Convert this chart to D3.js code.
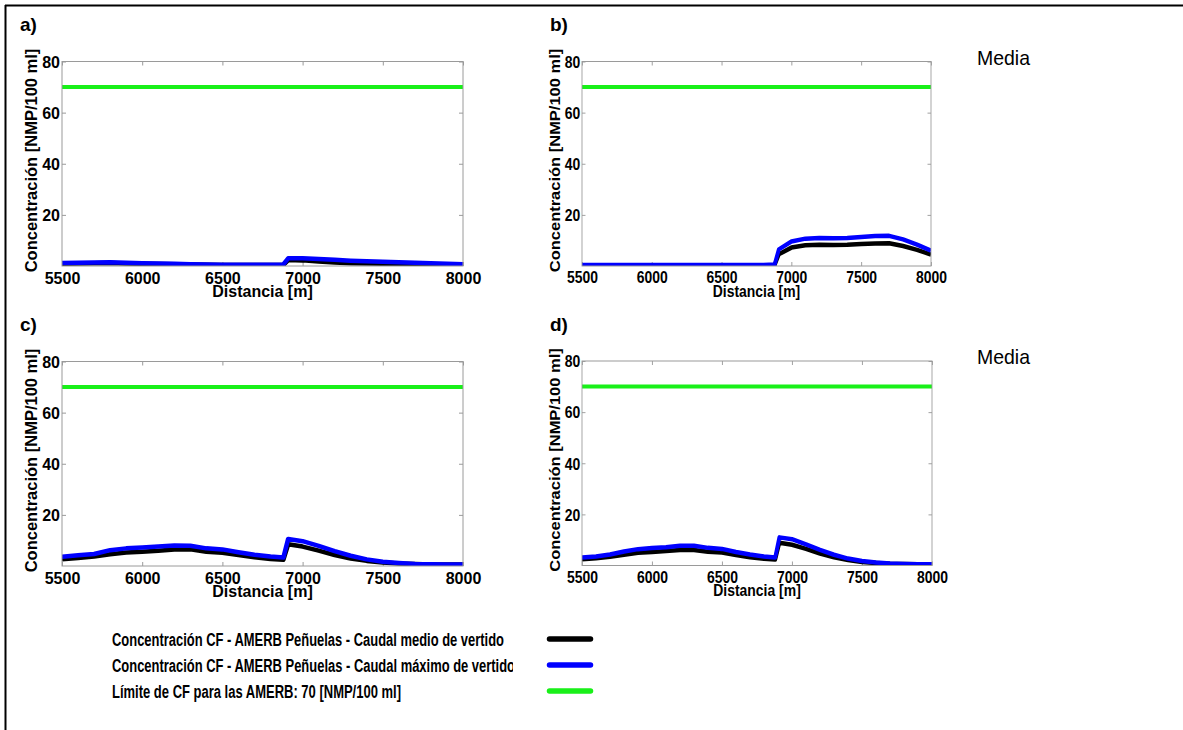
<!DOCTYPE html>
<html>
<head>
<meta charset="utf-8">
<script src="https://cdn.jsdelivr.net/npm/d3@7"></script>
<style>
  html, body { margin: 0; padding: 0; background: #fff; }
  svg { display: block; font-family: "Liberation Sans", Arial, sans-serif; }
</style>
</head>
<body>
<script>
// Distance along the coast [m] (shared x grid for all panels)
const distancia = [5500, 5600, 5700, 5800, 5900, 6000, 6100, 6200, 6300, 6400, 6500, 6600, 6700, 6800, 6880,
                   6910, 7000, 7100, 7200, 7300, 7400, 7500, 7600, 7700, 7800, 7900, 8000];

// a) concentration [NMP/100 ml]
const aMedio  = [0.9, 1.0, 1.1, 1.2, 1.0, 0.9, 0.8, 0.7, 0.6, 0.5, 0.4, 0.4, 0.4, 0.4, 0.4,
                 2.3, 2.2, 1.8, 1.4, 1.1, 1.0, 0.9, 0.8, 0.8, 0.7, 0.6, 0.5];
const aMaximo = [1.2, 1.3, 1.4, 1.5, 1.3, 1.1, 1.0, 0.9, 0.7, 0.6, 0.5, 0.5, 0.5, 0.5, 0.6,
                 3.0, 3.0, 2.7, 2.4, 2.1, 1.9, 1.7, 1.5, 1.3, 1.1, 0.9, 0.7];
// b)
const bMedio  = [0.3, 0.3, 0.3, 0.3, 0.3, 0.3, 0.3, 0.3, 0.3, 0.3, 0.3, 0.3, 0.3, 0.3, 0.4,
                 4.6, 7.2, 8.1, 8.3, 8.2, 8.3, 8.6, 8.8, 8.9, 7.8, 6.3, 4.5];
const bMaximo = [0.4, 0.4, 0.4, 0.4, 0.4, 0.4, 0.4, 0.4, 0.4, 0.4, 0.4, 0.4, 0.4, 0.4, 0.6,
                 6.5, 9.6, 10.7, 11.0, 10.9, 11.0, 11.3, 11.7, 11.8, 10.4, 8.4, 6.0];
// c)
const cMedio  = [2.6, 3.1, 3.7, 4.6, 5.3, 5.6, 6.0, 6.5, 6.5, 5.6, 5.2, 4.3, 3.4, 2.7, 2.4,
                 8.5, 7.6, 6.0, 4.3, 2.9, 2.0, 1.4, 1.0, 0.8, 0.6, 0.6, 0.6];
const cMaximo = [3.6, 4.2, 4.7, 6.2, 6.9, 7.2, 7.6, 8.0, 7.9, 6.9, 6.5, 5.4, 4.4, 3.7, 3.3,
                 10.6, 9.7, 7.9, 5.8, 4.0, 2.6, 1.7, 1.2, 0.8, 0.7, 0.6, 0.6];
// d)
const dMedio  = [2.4, 2.8, 3.4, 4.2, 5.0, 5.3, 5.7, 6.1, 6.1, 5.4, 5.1, 4.1, 3.2, 2.6, 2.3,
                 8.9, 8.1, 6.5, 4.7, 3.2, 2.1, 1.4, 1.0, 0.7, 0.6, 0.5, 0.5];
const dMaximo = [3.1, 3.5, 4.3, 5.5, 6.4, 6.8, 7.1, 7.7, 7.7, 6.9, 6.5, 5.3, 4.3, 3.5, 3.1,
                 11.0, 10.3, 8.3, 6.1, 4.2, 2.7, 1.8, 1.2, 0.8, 0.6, 0.5, 0.5];

// CF limit for the AMERB [NMP/100 ml]
const limiteCF = 70;

const ticksX = [5500, 6000, 6500, 7000, 7500, 8000];
const ticksY = [20, 40, 60, 80];
const dominioX = [5500, 8000];
const dominioY = [0, 80];

const etiquetasPanel = ["a)", "b)", "c)", "d)"];
const tituloX = "Distancia [m]";
const tituloY = "Concentración [NMP/100 ml]";
const textoEscenario = "Media";
const leyendaTextos = [
  "Concentración CF - AMERB Peñuelas - Caudal medio de vertido",
  "Concentración CF - AMERB Peñuelas - Caudal máximo de vertido",
  "Límite de CF para las AMERB: 70 [NMP/100 ml]"
];

const colorMedio = "#000000";
const colorMaximo = "#0000ff";
const colorLimite = "#19f019";

// Panel layout (plot-box position in the page)
const panels = [
  { label: etiquetasPanel[0], medio: aMedio, maximo: aMaximo, left: 62,  top: 61.5, width: 401, lx: 20,  ly: 31 },
  { label: etiquetasPanel[1], medio: bMedio, maximo: bMaximo, left: 582, top: 61.5, width: 349, lx: 550, ly: 31, media: 65 },
  { label: etiquetasPanel[2], medio: cMedio, maximo: cMaximo, left: 62,  top: 361.5, width: 401, lx: 20,  ly: 331 },
  { label: etiquetasPanel[3], medio: dMedio, maximo: dMaximo, left: 582, top: 361,  width: 350, lx: 550, ly: 331, media: 364 }
];

const W = 1183, H = 730;
const svg = d3.select("body").append("svg").attr("width", W).attr("height", H);
svg.append("rect").attr("width", W).attr("height", H).attr("fill", "#fff");
const defs = svg.append("defs");

// Figure frame (top and left edges)
svg.append("line").attr("x1", 5).attr("y1", 5.5).attr("x2", W).attr("y2", 5.5)
  .attr("stroke", "#000").attr("stroke-width", 2);
svg.append("line").attr("x1", 5.5).attr("y1", 5).attr("x2", 5.5).attr("y2", H)
  .attr("stroke", "#000").attr("stroke-width", 2);

const PW = 401, PH = 204.5;   // native plot-box size
const boxColor = "#9a9a9a";

panels.forEach((p, i) => {
  const sx = p.width / PW;
  const g = svg.append("g").attr("transform", `translate(${p.left},${p.top}) scale(${sx},1)`);

  const x = d3.scaleLinear().domain(dominioX).range([0, PW]);
  const y = d3.scaleLinear().domain(dominioY).range([PH, 0]);

  const clipId = "clip-" + i;
  defs.append("clipPath").attr("id", clipId)
    .append("rect").attr("x", 0).attr("y", 0).attr("width", PW).attr("height", PH);

  // tick marks on all four sides, pointing inwards
  const tickStyle = sel => {
    sel.select(".domain").remove();
    sel.selectAll(".tick line").attr("stroke", boxColor).attr("stroke-width", 1);
  };
  g.append("g").attr("transform", `translate(0,${PH})`)
    .call(d3.axisBottom(x).tickValues(ticksX).tickSizeInner(-4).tickSizeOuter(0).tickPadding(0)
      .tickFormat(d3.format("d")))
    .call(tickStyle)
    .call(s => s.selectAll(".tick text")
      .attr("y", 17.5).attr("dy", null)
      .attr("fill", "#000").attr("font-size", 16).attr("font-weight", "bold")
      .attr("font-family", "'Liberation Sans', Arial, sans-serif"));
  g.append("g")
    .call(d3.axisTop(x).tickValues(ticksX).tickSizeInner(-4).tickSizeOuter(0).tickFormat(""))
    .call(tickStyle);
  g.append("g")
    .call(d3.axisLeft(y).tickValues(ticksY).tickSizeInner(-4).tickSizeOuter(0).tickPadding(2))
    .call(tickStyle)
    .call(s => s.selectAll(".tick text")
      .attr("x", -2).attr("dy", "0.36em")
      .attr("fill", "#000").attr("font-size", 16).attr("font-weight", "bold")
      .attr("font-family", "'Liberation Sans', Arial, sans-serif"));
  g.append("g").attr("transform", `translate(${PW},0)`)
    .call(d3.axisRight(y).tickValues(ticksY).tickSizeInner(-4).tickSizeOuter(0).tickFormat(""))
    .call(tickStyle);

  // series
  const plot = g.append("g").attr("clip-path", `url(#${clipId})`);
  const line = d3.line().x((d, k) => x(distancia[k])).y(d => y(d));

  plot.append("path").datum(dominioX.map(() => limiteCF))
    .attr("d", d3.line().x((d, k) => x(dominioX[k])).y(d => y(d)))
    .attr("fill", "none").attr("stroke", colorLimite).attr("stroke-width", 4);
  plot.append("path").datum(p.medio).attr("d", line)
    .attr("fill", "none").attr("stroke", colorMedio).attr("stroke-width", 4.5)
    .attr("stroke-linejoin", "round");
  plot.append("path").datum(p.maximo).attr("d", line)
    .attr("fill", "none").attr("stroke", colorMaximo).attr("stroke-width", 4.5)
    .attr("stroke-linejoin", "round");

  // axes box
  g.append("rect").attr("x", 0).attr("y", 0).attr("width", PW).attr("height", PH)
    .attr("fill", "none").attr("stroke", boxColor).attr("stroke-width", 1);

  // axis titles
  g.append("text").attr("x", PW / 2).attr("y", PH + 31)
    .attr("text-anchor", "middle").attr("font-size", 16).attr("font-weight", "bold")
    .text(tituloX);
  g.append("text").attr("transform", `translate(-25.5,${99}) rotate(-90)`)
    .attr("text-anchor", "middle").attr("font-size", 16.5).attr("font-weight", "bold")
    .text(tituloY);

  // panel letter
  svg.append("text").attr("x", p.lx).attr("y", p.ly)
    .attr("font-size", 19).attr("font-weight", "bold").text(p.label);

  if (p.media !== undefined) {
    svg.append("text").attr("x", 977).attr("y", p.media)
      .attr("font-size", 21).attr("textLength", 53).attr("lengthAdjust", "spacingAndGlyphs")
      .text(textoEscenario);
  }
});

// Legend
const leyenda = [
  { texto: leyendaTextos[0], color: colorMedio,  yl: 639, yt: 645.5, len: 392 },
  { texto: leyendaTextos[1], color: colorMaximo, yl: 665, yt: 671.5, len: 403 },
  { texto: leyendaTextos[2], color: colorLimite, yl: 691, yt: 697.5, len: 289 }
];
defs.append("clipPath").attr("id", "clip-leyenda")
  .append("rect").attr("x", 100).attr("y", 600).attr("width", 413).attr("height", 120);
const gl = svg.append("g").attr("clip-path", "url(#clip-leyenda)");
leyenda.forEach(d => {
  gl.append("text").attr("x", 112).attr("y", d.yt)
    .attr("font-size", 17.5).attr("font-weight", "bold")
    .attr("textLength", d.len).attr("lengthAdjust", "spacingAndGlyphs")
    .text(d.texto);
  svg.append("line").attr("x1", 549.5).attr("x2", 590.5).attr("y1", d.yl).attr("y2", d.yl)
    .attr("stroke", d.color).attr("stroke-width", 5.5).attr("stroke-linecap", "round");
});
</script>
</body>
</html>
